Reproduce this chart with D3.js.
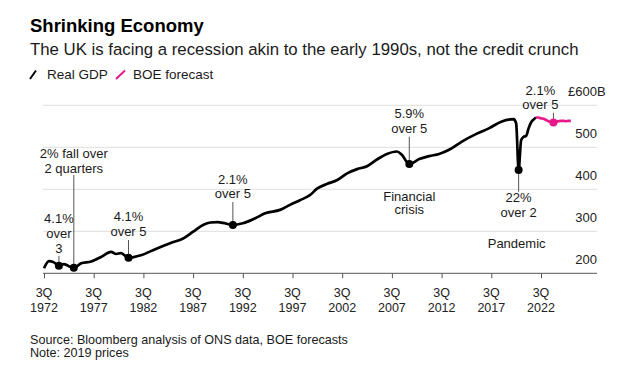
<!DOCTYPE html>
<html>
<head>
<meta charset="utf-8">
<script src="https://cdn.jsdelivr.net/npm/d3@7"></script>
<style>
  html, body { margin: 0; padding: 0; background: #fff; }
  svg { display: block; font-family: "Liberation Sans", Arial, Helvetica, sans-serif; }
</style>
</head>
<body>
<svg id="chart" width="641" height="374"></svg>
<script>
// ---------------- DATA ----------------
const gdpDates = ["1972Q3","1973Q1","1973Q3","1974Q1","1974Q3","1975Q1","1975Q3","1976Q2","1977Q2","1978Q2",
  "1979Q2","1979Q4","1980Q2","1981Q1","1982Q2","1983Q4","1985Q2","1986Q3","1987Q3","1988Q3",
  "1989Q2","1990Q1","1990Q3","1991Q3","1992Q3","1993Q4","1994Q4","1996Q2","1997Q2","1998Q2",
  "1999Q2","2000Q1","2001Q1","2002Q1","2003Q1","2004Q1","2005Q1","2006Q1","2007Q1","2008Q1",
  "2008Q3","2009Q2","2010Q2","2011Q2","2012Q2","2013Q2","2014Q3","2016Q1","2017Q2","2018Q3",
  "2019Q4","2020Q1","2020Q2","2020Q3","2020Q4","2021Q1","2021Q2","2021Q3","2021Q4","2022Q1"];
const gdpValues = [212,229,226,218,222,217,213,224,228,239,
  251,246,248,237,243,258,272,283,299,315,
  321,322,320,315,319,331,343,351,363,374,
  386,402,413,422,438,448,455,471,484,490,
  482,460,472,479,484,494,513,532,545,561,
  567,557,446,517,525,527,545,559,566,571];

const forecastDates = ["2022Q1","2022Q2","2022Q3","2022Q4","2023Q1","2023Q2","2023Q3","2023Q4",
  "2024Q1","2024Q2","2024Q3","2024Q4","2025Q1","2025Q2","2025Q3"];
const forecastValues = [571,571,569,568,565,562,560,559,561,562,563,563,562,563,563];

const yTicks = [200, 300, 400, 500, 600];
const xTickLabels = ["3Q 1972","3Q 1977","3Q 1982","3Q 1987","3Q 1992","3Q 1997","3Q 2002","3Q 2007","3Q 2012","3Q 2017","3Q 2022"];

// annotations: marked quarter, series, text lines
const annDates  = ["1974Q1","1975Q3","1981Q1","1991Q3","2009Q2","2020Q2","2023Q4"];
const annSeries = ["gdp","gdp","gdp","gdp","gdp","gdp","forecast"];
const annTexts  = [["4.1%","over","3"],["2% fall over","2 quarters"],["4.1%","over 5"],["2.1%","over 5"],
                   ["5.9%","over 5"],["22%","over 2"],["2.1%","over 5"]];
const extraLabels = [["Financial","crisis"],["Pandemic"]];

// ---------------- LAYOUT ----------------
const svg = d3.select("#chart");
const parseQ = s => +s.slice(0,4) + (+s.slice(5) - 1) / 4;

const x = d3.scaleLinear().domain([1972.5, 2022.5]).range([44, 541]);
const y = d3.scaleLinear().domain([200, 600]).range([273.3, 105.3]);
const plotLeft = 43, plotRight = 597;

const gdp = gdpDates.map((d, i) => ({t: parseQ(d), v: gdpValues[i]}));
const fc = forecastDates.map((d, i) => ({t: parseQ(d), v: forecastValues[i]}));

const PINK = "#e8178a";
const TXT = "#1a1a1a";

// Title
svg.append("text").attr("x", 30).attr("y", 32)
  .attr("font-size", 18.5).attr("font-weight", "bold").attr("fill", "#000")
  .text("Shrinking Economy");
svg.append("text").attr("x", 30).attr("y", 55)
  .attr("font-size", 16.8).attr("fill", TXT)
  .text("The UK is facing a recession akin to the early 1990s, not the credit crunch");

// Legend
const leg = svg.append("g").attr("font-size", 13.5).attr("fill", TXT);
leg.append("line").attr("x1", 30).attr("y1", 79).attr("x2", 36).attr("y2", 70.5)
  .attr("stroke", "#000").attr("stroke-width", 2);
leg.append("text").attr("x", 47).attr("y", 79).text("Real GDP");
leg.append("line").attr("x1", 116).attr("y1", 79).attr("x2", 125).attr("y2", 70.5)
  .attr("stroke", PINK).attr("stroke-width", 2);
leg.append("text").attr("x", 133).attr("y", 79).text("BOE forecast");

// Gridlines
svg.append("g").selectAll("line").data(yTicks.filter(d => d !== 200)).join("line")
  .attr("x1", plotLeft).attr("x2", plotRight)
  .attr("y1", d => y(d)).attr("y2", d => y(d))
  .attr("stroke", "#dedede").attr("stroke-width", 1);

// Y labels (right)
const yl = svg.append("g").attr("font-size", 13).attr("fill", "#222").attr("text-anchor", "end");
yTicks.forEach(v => {
  const t = yl.append("text").attr("x", plotRight).attr("y", y(v) - 9).text(v);
  if (v === 600) {
    const w = t.node().getComputedTextLength();
    yl.append("text").attr("x", plotRight - w).attr("y", y(v) - 9).text("£");
    yl.append("text").attr("x", plotRight).attr("y", y(v) - 9).attr("text-anchor", "start").text("B");
  }
});

// X axis
const xTickVals = xTickLabels.map(s => +s.slice(3) + 0.5);
const xAxis = d3.axisBottom(x).tickValues(xTickVals).tickSize(5).tickSizeOuter(0).tickFormat("");
const gx = svg.append("g").attr("transform", `translate(0,${y(200)})`).call(xAxis);
gx.select(".domain").remove();
gx.selectAll(".tick line").attr("stroke", "#555");
svg.append("line").attr("x1", plotLeft).attr("x2", plotRight)
  .attr("y1", y(200)).attr("y2", y(200)).attr("stroke", "#555").attr("stroke-width", 1);
const xl = svg.append("g").attr("font-size", 12.5).attr("fill", "#222").attr("text-anchor", "middle");
xTickLabels.forEach((s, i) => {
  const t = xl.append("text").attr("x", x(xTickVals[i])).attr("y", 296.5);
  t.append("tspan").attr("x", x(xTickVals[i])).text(s.slice(0, 2));
  t.append("tspan").attr("x", x(xTickVals[i])).attr("dy", 15).text(s.slice(3));
});

// Lines
const line = d3.line().x(d => x(d.t)).y(d => y(d.v)).curve(d3.curveMonotoneX);
svg.append("path").datum(gdp).attr("d", line).attr("fill", "none")
  .attr("stroke", "#000").attr("stroke-width", 2.7).attr("stroke-linejoin", "round");
svg.append("path").datum(fc).attr("d", line).attr("fill", "none")
  .attr("stroke", PINK).attr("stroke-width", 2.7).attr("stroke-linejoin", "round");

// Annotations
const annLayout = [
  {dx: 0,   y0: 223.3, lh: 14.7, lead: [256, null], dir: "up"},
  {dx: 0,   y0: 158.3, lh: 14.4, lead: [175, null], dir: "up"},
  {dx: 0,   y0: 221,   lh: 14.7, lead: [240, null], dir: "up"},
  {dx: 0,   y0: 184,   lh: 14.4, lead: [202, null], dir: "up"},
  {dx: 0,   y0: 118.3, lh: 14.4, lead: [136.7, null], dir: "up"},
  {dx: 0,   y0: 201.7, lh: 15,   lead: [null, 191.7], dir: "down"},
  {dx: -13, y0: 95,    lh: 14.3, lead: [112.7, null], dir: "up"}
];
const ann = svg.append("g").attr("font-size", 13).attr("fill", TXT).attr("text-anchor", "middle");
annDates.forEach((d, i) => {
  const src = annSeries[i] === "gdp" ? gdp : fc;
  const pt = src.find(p => p.t === parseQ(d));
  const px = x(pt.t), py = y(pt.v);
  const L = annLayout[i];
  const y1 = L.dir === "up" ? L.lead[0] : py;
  const y2 = L.dir === "up" ? py : L.lead[1];
  ann.append("line").attr("x1", px).attr("x2", px).attr("y1", y1).attr("y2", y2)
    .attr("stroke", "#555").attr("stroke-width", 1);
  ann.append("circle").attr("cx", px).attr("cy", py).attr("r", 4)
    .attr("fill", annSeries[i] === "gdp" ? "#000" : PINK);
  annTexts[i].forEach((s, j) => {
    ann.append("text").attr("x", px + L.dx).attr("y", L.y0 + j * L.lh).text(s);
  });
});
const finX = x(parseQ("2009Q2"));
extraLabels[0].forEach((s, j) => ann.append("text").attr("x", finX).attr("y", 200.7 + j * 13.5).text(s));
ann.append("text").attr("x", x(parseQ("2020Q2")) - 2).attr("y", 248.3).text(extraLabels[1][0]);

// Source
const src = svg.append("g").attr("font-size", 12.6).attr("fill", TXT);
src.append("text").attr("x", 30).attr("y", 343.5).text("Source: Bloomberg analysis of ONS data, BOE forecasts");
src.append("text").attr("x", 30).attr("y", 357).text("Note: 2019 prices");
</script>
</body>
</html>
